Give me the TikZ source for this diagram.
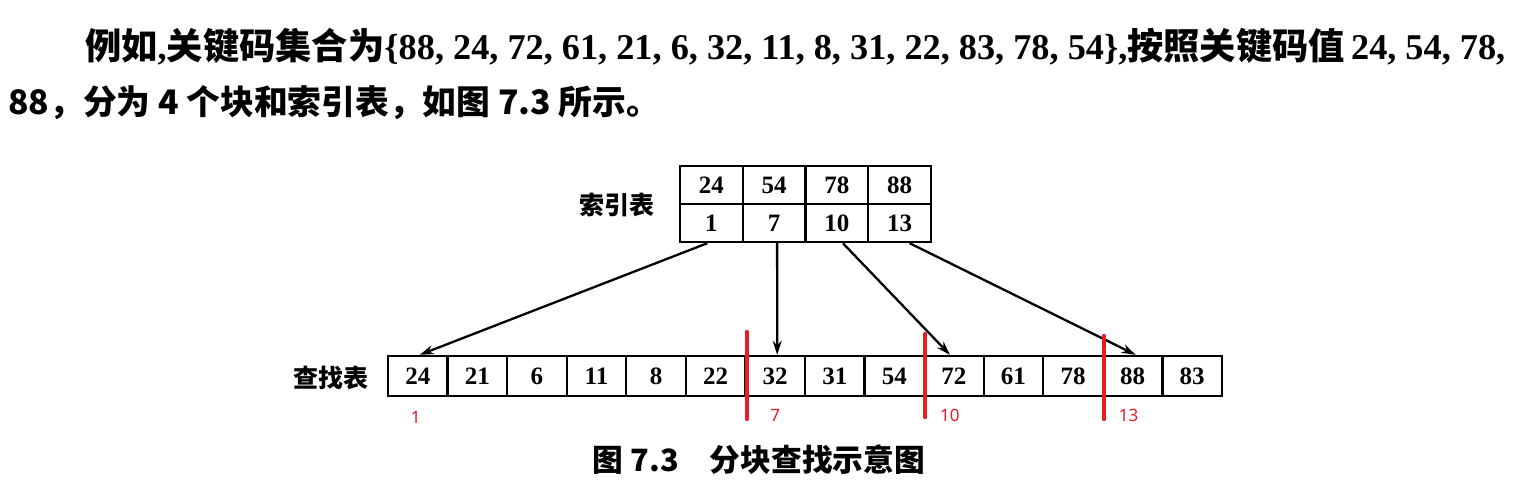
\documentclass[tikz,border=0pt]{standalone}
\usepackage{fontspec}
\usetikzlibrary{arrows.meta}
\setmainfont{Liberation Serif}
\newfontfamily\cjk{Noto Sans CJK SC}
\newfontfamily\rlabfont{Noto Sans}
\definecolor{myred}{RGB}{232,28,36}
\begin{document}
\begin{tikzpicture}[x=1pt,y=-1pt,
  icell/.style={draw,line width=2.4pt,minimum width=62.75pt,minimum height=38pt,inner sep=0pt,
    font=\fontsize{25}{27}\selectfont\bfseries},
  lcell/.style={draw,line width=2.4pt,minimum width=59.57pt,minimum height=40pt,inner sep=0pt,
    font=\fontsize{25}{27}\selectfont\bfseries},
  arr/.style={line width=2.3pt,-{Stealth[length=14pt,width=9pt]}},
  redline/.style={draw=myred,line width=4pt,line cap=round},
  rlab/.style={text=myred,font=\rlabfont\fontsize{17}{19}\selectfont,inner sep=0pt},
  lbl/.style={font=\cjk\bfseries\fontsize{25}{28}\selectfont,inner sep=0pt}]
\useasboundingbox[fill=white] (0,0) rectangle (1535,486);

% paragraph text
\node[anchor=west,inner sep=0pt] (p1) at (85,47) {\resizebox{1420pt}{!}{\fontsize{28}{32}\selectfont
  {\cjk\bfseries 例如}{\bfseries ,}{\cjk\bfseries 关键码集合为}{\bfseries\{88, 24, 72, 61, 21, 6, 32, 11, 8, 31, 22, 83, 78, 54\},}{\cjk\bfseries 按照关键码值}{\bfseries\,24, 54, 78,}}};
\node[anchor=west,inner sep=0pt] (p2) at (8,103) {\resizebox{652pt}{!}{\fontsize{28}{32}\selectfont
  \cjk\bfseries 88，分为 4 个块和索引表，如图 7.3 所示。}};

% index table
\foreach \v [count=\k] in {24,54,78,88}
  \node[icell] (t\k) at ({680+(\k-0.5)*62.75},185) {\v};
\foreach \v [count=\k] in {1,7,10,13}
  \node[icell] (i\k) at ({680+(\k-0.5)*62.75},223) {\v};
\node[lbl] (ilabel) at (617,205) {索引表};

% lookup table
\foreach \v [count=\k] in {24,21,6,11,8,22,32,31,54,72,61,78,88,83}
  \node[lcell] (l\k) at ({388+(\k-0.5)*59.57},376) {\v};
\node[lbl] (llabel) at (331,378) {查找表};

% arrows
\draw[arr] ([xshift=-4pt]i1.south) -- ([xshift=2pt]l1.north);
\draw[arr] ([xshift=3pt]i2.south) -- ([xshift=2pt]l7.north);
\draw[arr] ([xshift=6pt]i3.south) -- ([xshift=-4pt]l10.north);
\draw[arr] ([xshift=10pt]i4.south) -- ([xshift=3pt]l13.north);

% red block separators
\draw[redline] ([yshift=23pt]l6.north east) -- ([yshift=-22pt]l6.south east);
\draw[redline] ([yshift=21pt]l9.north east) -- ([yshift=-20pt]l9.south east);
\draw[redline] ([yshift=19pt]l12.north east) -- ([yshift=-22pt]l12.south east);

% red labels
\node[rlab] (r1) at ([xshift=-2pt,yshift=-20pt]l1.south) {1};
\node[rlab] (r7) at ([yshift=-18pt]l7.south) {7};
\node[rlab] (r10) at ([xshift=-4pt,yshift=-18pt]l10.south) {10};
\node[rlab] (r13) at ([xshift=-4pt,yshift=-18pt]l13.south) {13};

% caption
\node[inner sep=0pt] (cap) at (759,460) {\resizebox{332pt}{!}{\fontsize{26}{28}\selectfont\cjk\bfseries 图 7.3\quad 分块查找示意图}};
\end{tikzpicture}
\end{document}
